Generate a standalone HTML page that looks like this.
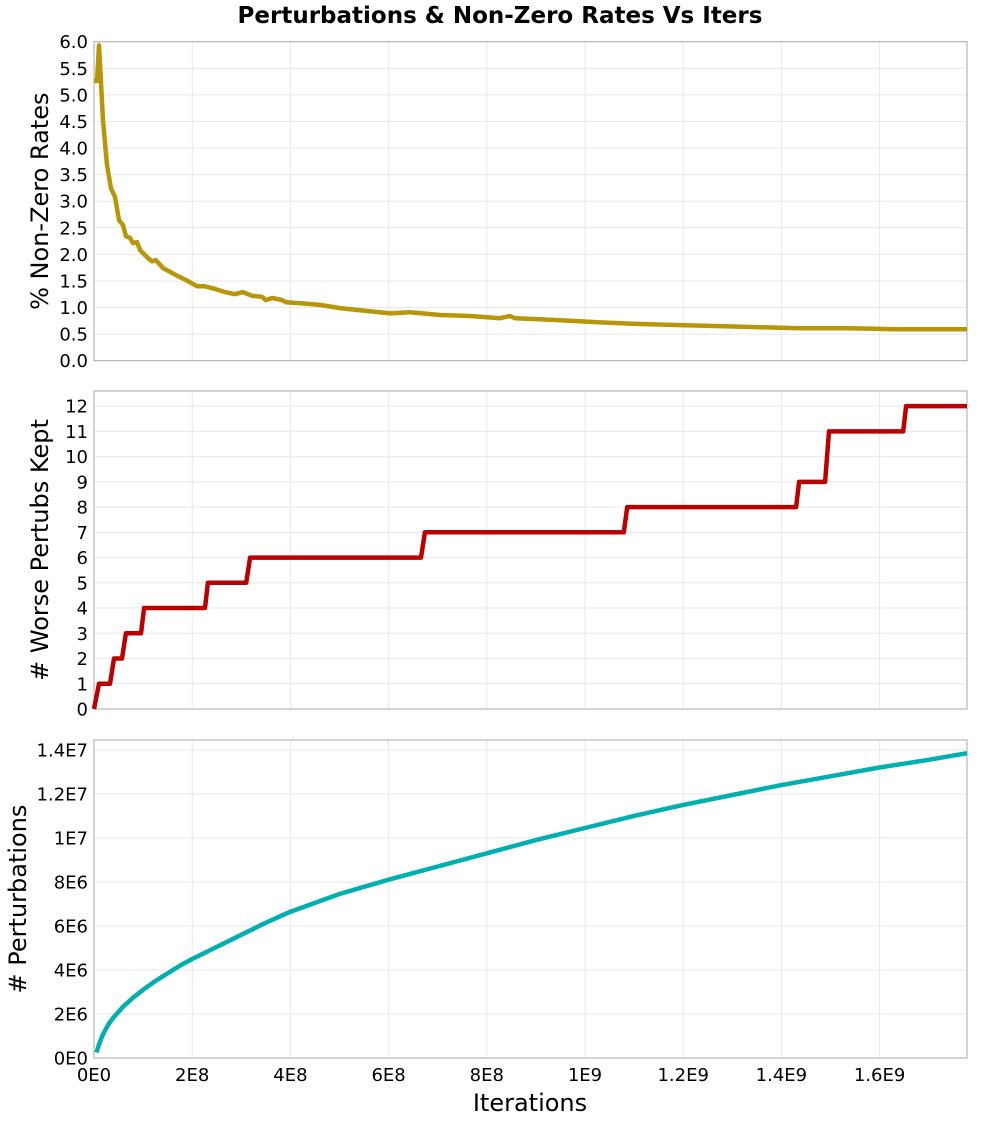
<!DOCTYPE html>
<html><head><meta charset="utf-8"><style>
body{margin:0;background:#fff}
svg text{font-family:"DejaVu Sans","Liberation Sans",sans-serif;fill:#000}
</style></head><body>
<svg id="c" width="1000" height="1120" xmlns="http://www.w3.org/2000/svg">
<text x="500" y="23" text-anchor="middle" font-size="23" font-weight="bold">Perturbations &amp; Non-Zero Rates Vs Iters</text>
</svg>
<script>
// x values in millions of iterations
const rateIters=[0,6.1,10.2,18.3,26.5,34.6,42.8,50.9,59.1,65.2,73.3,79.4,87.6,93.7,110,118,126,141,155,171,189,210,226,246,267,287,303,322,342,350,363,383,391,420,460,501,542,603,644,705,766,827,847,857,908,949,1031,1112,1194,1275,1356,1438,1540,1642,1778];
const rateValues=[5.26,5.26,5.93,4.52,3.68,3.24,3.08,2.64,2.55,2.34,2.31,2.21,2.23,2.08,1.93,1.87,1.89,1.74,1.67,1.59,1.51,1.40,1.40,1.35,1.29,1.25,1.29,1.22,1.20,1.14,1.18,1.14,1.10,1.08,1.05,0.99,0.95,0.89,0.91,0.86,0.84,0.80,0.84,0.80,0.78,0.76,0.72,0.69,0.67,0.65,0.63,0.61,0.61,0.59,0.59];
const worseIters=[0,10.2,32.6,40.7,57,65,95.7,102,226,232,310,318,666,674,1079,1086,1430,1436,1489,1497,1648,1654,1778];
const worseValues=[0,1,1,2,2,3,3,4,4,5,5,6,6,7,7,8,8,9,9,11,11,12,12];
const pertIters=[5,10,15,20,25,30,40,50,60,75,80,100,125,150,175,200,250,300,350,400,450,500,600,700,800,900,1000,1100,1200,1300,1400,1500,1600,1700,1778];
const pertValues=[0.25,0.6,0.9,1.15,1.35,1.55,1.85,2.1,2.35,2.65,2.75,3.1,3.5,3.85,4.2,4.5,5.05,5.6,6.15,6.65,7.05,7.45,8.1,8.7,9.3,9.9,10.45,11.0,11.5,11.95,12.4,12.8,13.2,13.55,13.85];
const xTicks=[0,200,400,600,800,1000,1200,1400,1600];
const xTickLabels=["0E0","2E8","4E8","6E8","8E8","1E9","1.2E9","1.4E9","1.6E9"];
const rateTicks=[0,0.5,1,1.5,2,2.5,3,3.5,4,4.5,5,5.5,6];
const rateTickLabels=rateTicks.map(v=>v.toFixed(1));
const worseTicks=[0,1,2,3,4,5,6,7,8,9,10,11,12];
const worseTickLabels=worseTicks.map(String);
const pertTicks=[0,2,4,6,8,10,12,14];
const pertTickLabels=["0E0","2E6","4E6","6E6","8E6","1E7","1.2E7","1.4E7"];

const NS="http://www.w3.org/2000/svg";
const svg=document.getElementById('c');
const L=94,R=967,XMAX=1778;
const xs=v=>L+v/XMAX*(R-L);
function mk(t,a,p){const e=document.createElementNS(NS,t);for(const k in a)e.setAttribute(k,a[k]);(p||svg).appendChild(e);return e;}
function panel(name,top,bot,ymax,ticks,labels,xsI,ys,color,title,showX){
  const g=mk('g',{});
  
  
  const y=v=>bot-v/ymax*(bot-top);
  xTicks.forEach(t=>{const l=mk('line',{x1:xs(t),x2:xs(t),y1:top,y2:bot,stroke:'#e8e8e8'},g);
    
    });
  ticks.forEach((t,i)=>{const l=mk('line',{x1:L,x2:R,y1:y(t),y2:y(t),stroke:'#e8e8e8'},g);
    
    
    const tx=mk('text',{x:L-6,y:y(t)+6.5,'text-anchor':'end','font-size':18},g);tx.textContent=labels[i];
    
    });
  const fr=mk('rect',{x:L,y:top,width:R-L,height:bot-top,fill:'none',stroke:'#aaa'},g);
  
  
  const d=xsI.map((v,i)=>(i?'L':'M')+xs(v).toFixed(1)+','+y(ys[i]).toFixed(1)).join('');
  const p=mk('path',{d:d,fill:'none',stroke:color,'stroke-width':4.5,'stroke-linejoin':'round'},g);
  
  
  const cy=(top+bot)/2;
  const yt=mk('text',{x:0,y:0,'text-anchor':'middle','font-size':24,transform:'translate('+(name==='perturbations'?26:48)+','+cy+') rotate(-90)'},g);
  yt.textContent=title;
  
  
  if(showX){xTicks.forEach((t,i)=>{const tx=mk('text',{x:xs(t),y:bot+23,'text-anchor':'middle','font-size':18},g);tx.textContent=xTickLabels[i];
    
    });}
}
panel('non-zero-rates',41.7,360.7,6.0,rateTicks,rateTickLabels,rateIters,rateValues,'#b8960a','% Non-Zero Rates',false);
panel('worse-perturbs',391,709,12.6,worseTicks,worseTickLabels,worseIters,worseValues,'#bb0000','# Worse Pertubs Kept',false);
panel('perturbations',740,1058,14.45,pertTicks,pertTickLabels,pertIters,pertValues,'#00b0b0','# Perturbations',true);
const xt=mk('text',{x:530,y:1111,'text-anchor':'middle','font-size':24});
xt.textContent='Iterations';


</script>
</body></html>
